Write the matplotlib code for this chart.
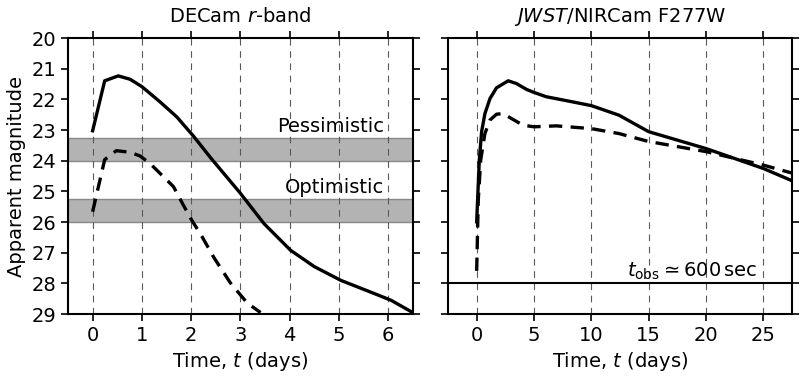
import numpy as np
import matplotlib
matplotlib.use("Agg")
import matplotlib.pyplot as plt

# Left panel: DECam r-band
t_left = [0.0, 0.245, 0.52, 0.76, 1.0, 1.37, 1.71, 2.05, 2.39, 3.0, 3.48, 4.02, 4.5, 5.04, 5.72, 6.06, 6.5]
m_left_solid = [23.02, 21.39, 21.23, 21.34, 21.58, 22.08, 22.57, 23.2, 23.89, 25.06, 26.05, 26.92, 27.45, 27.9, 28.33, 28.55, 28.95]
t_left_d = [0.0, 0.245, 0.48, 0.76, 0.96, 1.16, 1.3, 1.64, 1.84, 2.01, 2.22, 2.46, 2.8, 3.14, 3.41]
m_left_dash = [25.66, 23.96, 23.67, 23.72, 23.84, 24.08, 24.3, 24.84, 25.44, 25.93, 26.47, 27.15, 27.99, 28.64, 28.95]

# Right panel: JWST/NIRCam F277W
t_right = [0.0, 0.23, 0.43, 0.72, 1.16, 1.73, 2.75, 3.47, 4.34, 5.0, 6.07, 8.4, 10.0, 12.4, 15.0, 20.0, 25.0, 27.5]
m_right_solid = [25.99, 23.98, 23.05, 22.46, 21.97, 21.62, 21.39, 21.48, 21.67, 21.77, 21.91, 22.08, 22.2, 22.51, 23.05, 23.6, 24.25, 24.65]
t_right_d = [0.0, 0.14, 0.35, 0.72, 1.16, 1.73, 2.3, 3.03, 4.05, 5.0, 6.94, 10.0, 12.4, 15.0, 20.0, 25.0, 27.5]
m_right_dash = [27.59, 25.28, 23.98, 23.11, 22.67, 22.48, 22.46, 22.62, 22.84, 22.89, 22.86, 22.95, 23.11, 23.37, 23.7, 24.14, 24.4]

bands = [(23.25, 24.0, "Pessimistic"), (25.25, 26.0, "Optimistic")]
left_xticks = [0, 1, 2, 3, 4, 5, 6]
right_xticks = [0, 5, 10, 15, 20, 25]
yticks = list(range(20, 30))
t_obs_mag = 28.0

FS = 14
plt.rcParams['font.size'] = FS
fig = plt.figure(figsize=(8, 3.78), dpi=100)
ax1 = fig.add_axes([0.085, 0.169, 0.431, 0.730])
ax2 = fig.add_axes([0.56, 0.169, 0.43, 0.730], sharey=ax1)

lw = 2.4
for ax, xt in ((ax1, left_xticks), (ax2, right_xticks)):
    for x in xt:
        ax.axvline(x, color='0.35', ls=(0, (6, 5)), lw=0.8, zorder=1)
    ax.set_xticks(xt)
    ax.tick_params(direction='out', top=True, right=True, length=5, width=1.2, labelsize=FS)
    for s in ax.spines.values():
        s.set_linewidth(1.5)

for lo, hi, label in bands:
    ax1.axhspan(lo, hi, facecolor='#b3b3b3', edgecolor='#888888', lw=1, zorder=0.5)
    ax1.text(5.92, lo - 0.2, label, ha='right', va='baseline', fontsize=FS)

ax1.plot(t_left, m_left_solid, 'k-', lw=lw, zorder=3)
ax1.plot(t_left_d, m_left_dash, 'k--', lw=lw, dashes=(4, 2.5), zorder=3)
ax1.set_xlim(-0.5, 6.5)
ax1.set_ylim(29, 20)
ax1.set_yticks(yticks)
ax1.set_ylabel("Apparent magnitude", fontsize=FS)
ax1.set_xlabel("Time, $t$ (days)", fontsize=FS)
ax1.set_title("DECam $r$-band", fontsize=FS, pad=12)

ax2.plot(t_right, m_right_solid, 'k-', lw=lw, zorder=3)
ax2.plot(t_right_d, m_right_dash, 'k--', lw=lw, dashes=(4, 2.5), zorder=3)
ax2.axhline(t_obs_mag, color='k', lw=1.5, zorder=3)
ax2.text(24.5, t_obs_mag - 0.22, r"$t_{\rm obs} \simeq 600\,{\rm sec}$", ha='right', va='baseline', fontsize=FS)
ax2.set_xlim(-2.5, 27.5)
ax2.set_xlabel("Time, $t$ (days)", fontsize=FS)
ax2.set_title("$JWST$/NIRCam F277W", fontsize=FS, pad=12)
plt.setp(ax2.get_yticklabels(), visible=False)

fig.savefig("out.png", dpi=100)
